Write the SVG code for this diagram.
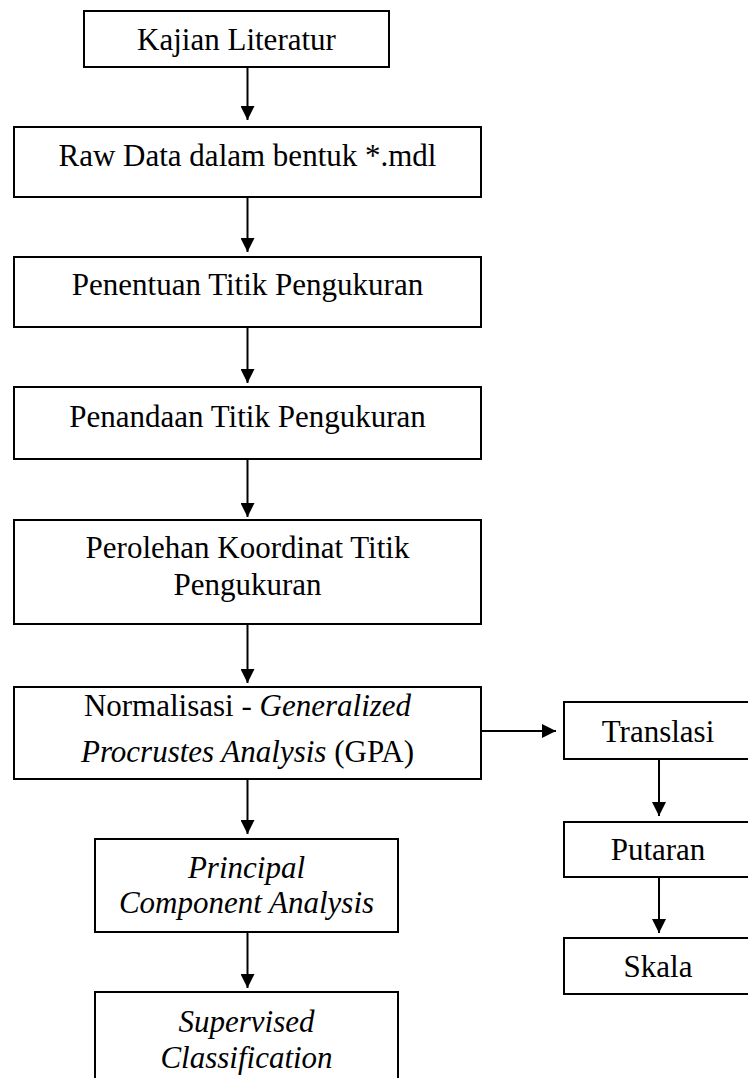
<svg xmlns="http://www.w3.org/2000/svg" width="748" height="1078" viewBox="0 0 748 1078">
<defs>
<marker id="ah" markerWidth="15" markerHeight="14" refX="14" refY="7" orient="auto" markerUnits="userSpaceOnUse">
<path d="M0,0 L14,7 L0,14 Z" fill="#000"/>
</marker>
</defs>
<style>
rect{fill:#fff;stroke:#000;stroke-width:2}
text{font-family:'Liberation Serif','DejaVu Serif',serif;font-size:31px;fill:#000;text-anchor:middle}
.i{font-style:italic}
line{stroke:#000;stroke-width:2}
</style>
<rect x="0" y="0" width="748" height="1078" style="fill:#fff;stroke:none"/>
<g id="connectors">
<line x1="247.5" y1="67" x2="247.5" y2="120" marker-end="url(#ah)"/>
<line x1="247.5" y1="197" x2="247.5" y2="252" marker-end="url(#ah)"/>
<line x1="247.5" y1="327" x2="247.5" y2="383" marker-end="url(#ah)"/>
<line x1="247.5" y1="459" x2="247.5" y2="517" marker-end="url(#ah)"/>
<line x1="247.5" y1="624" x2="247.5" y2="683" marker-end="url(#ah)"/>
<line x1="247.5" y1="779" x2="247.5" y2="834" marker-end="url(#ah)"/>
<line x1="247.5" y1="932" x2="247.5" y2="988" marker-end="url(#ah)"/>
<line x1="481" y1="731" x2="556" y2="731" marker-end="url(#ah)"/>
<line x1="659" y1="759" x2="659" y2="816" marker-end="url(#ah)"/>
<line x1="659" y1="877" x2="659" y2="933" marker-end="url(#ah)"/>
</g>
<g font-family="Liberation Serif, DejaVu Serif, serif">
<g id="n1"><rect x="84" y="11" width="305" height="56"/><text x="236.5" y="50">Kajian Literatur</text></g>
<g id="n2"><rect x="14" y="127" width="467" height="70"/><text x="247.5" y="166">Raw Data dalam bentuk *.mdl</text></g>
<g id="n3"><rect x="14" y="257" width="467" height="70"/><text x="247.5" y="295">Penentuan Titik Pengukuran</text></g>
<g id="n4"><rect x="14" y="387" width="467" height="72"/><text x="247.5" y="427">Penandaan Titik Pengukuran</text></g>
<g id="n5"><rect x="14" y="520" width="467" height="104"/><text x="247.5" y="558">Perolehan Koordinat Titik</text><text x="247.5" y="595">Pengukuran</text></g>
<g id="n6"><rect x="14" y="687" width="467" height="92"/><text x="247.5" y="716">Normalisasi - <tspan class="i">Generalized</tspan></text><text x="247.5" y="762"><tspan class="i">Procrustes Analysis</tspan> (GPA)</text></g>
<g id="n7"><rect x="95" y="839" width="303" height="93"/><text class="i" x="246.5" y="878">Principal</text><text class="i" x="246.5" y="913">Component Analysis</text></g>
<g id="n8"><rect x="95" y="992" width="303" height="100"/><text class="i" x="246.5" y="1032">Supervised</text><text class="i" x="246.5" y="1068">Classification</text></g>
<g id="n9"><rect x="564" y="702" width="200" height="57"/><text x="658" y="742">Translasi</text></g>
<g id="n10"><rect x="564" y="822" width="200" height="55"/><text x="658" y="860">Putaran</text></g>
<g id="n11"><rect x="564" y="938" width="200" height="56"/><text x="658" y="977">Skala</text></g>
</g>
</svg>
